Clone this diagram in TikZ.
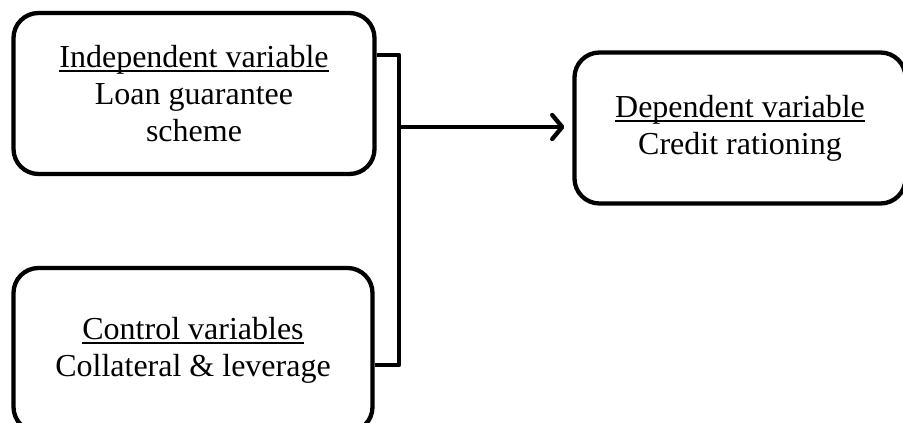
\documentclass[tikz,border=0pt]{standalone}
\usepackage{fontspec}
\setmainfont{Liberation Serif}
\usetikzlibrary{arrows.meta,shadows}
\newcommand{\uln}[1]{\setbox0\hbox{#1}\rlap{\vrule height -3pt depth 5pt width \wd0}\box0}
\begin{document}
\begin{tikzpicture}[x=1pt,y=1pt,
  varbox/.style={draw=black, line width=4.3pt, rounded corners=25pt, fill=white,
    align=center, inner sep=0pt, font=\fontsize{32}{37}\selectfont,
    drop shadow={opacity=0.22, shadow xshift=1.5pt, shadow yshift=-1.5pt}},
  link/.style={line width=4.3pt, line join=round},
  tip/.style={-{Straight Barb[length=10pt,width=24pt,line width=4.3pt,round]}}]
\useasboundingbox (0,0) rectangle (903,423);
\node[varbox, minimum width=361pt, minimum height=161pt] (indep) at (194,329.5)
  {\uln{Independent variable}\\Loan guarantee\\scheme};
\node[varbox, minimum width=359pt, minimum height=164pt] (ctrl) at (193,73)
  {\uln{Control variables}\\Collateral \& leverage};
\node[varbox, minimum width=331pt, minimum height=151pt] (dep) at (740,295)
  {\uln{Dependent variable}\\Credit rationing};
\coordinate (jt) at (399,368);
\coordinate (jb) at (399,58);
\coordinate (js) at (399,296);
\draw[link] (jt -| indep.east) -- (jt) -- (jb) -- (jb -| ctrl.east);
\draw[link, tip, shorten >=8pt] (js) -- (js -| dep.west);
\end{tikzpicture}
\end{document}
